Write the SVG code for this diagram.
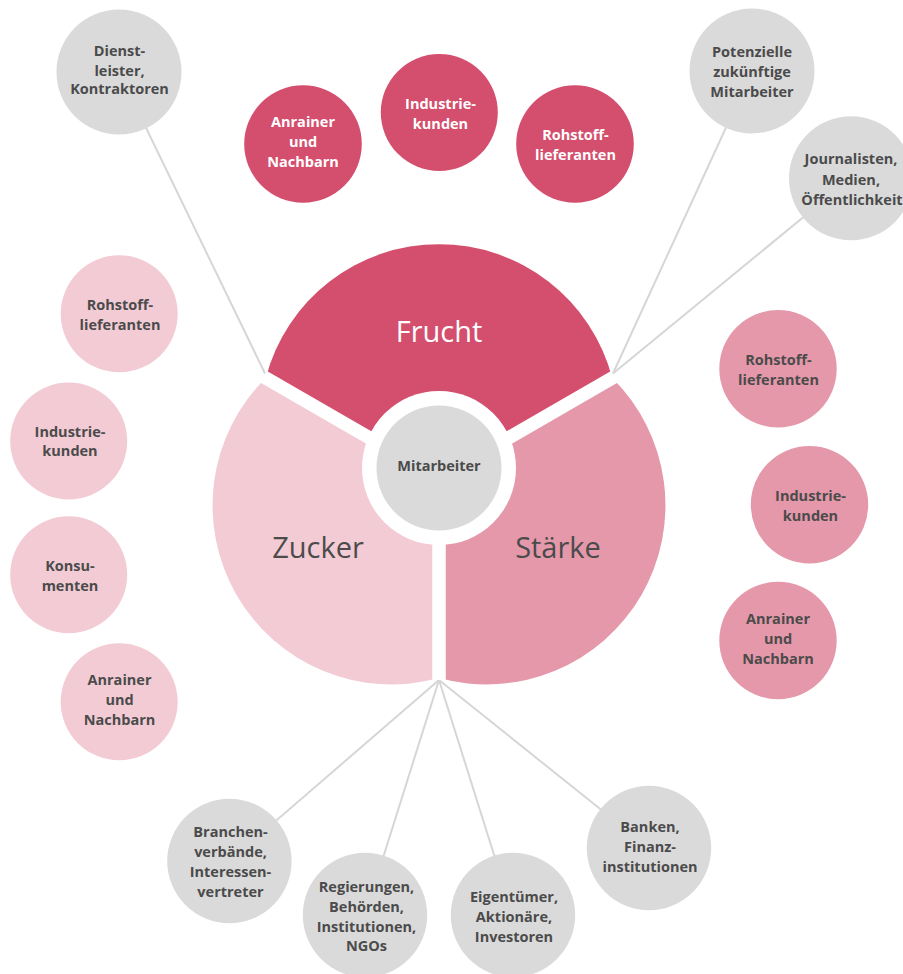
<svg xmlns="http://www.w3.org/2000/svg" width="903" height="974" viewBox="0 0 903 974">
<style>
  .lbl { font-family: "Open Sans", "Noto Sans", "Liberation Sans", sans-serif; font-size: 14.5px; font-weight: 700; text-anchor: middle; fill: #4b4b4b; }
  .lbl.w { fill: #ffffff; }
  .big { font-family: "Open Sans", "Noto Sans", "Liberation Sans", sans-serif; font-size: 29px; font-weight: 400; text-anchor: middle; fill: #4b4b4b; }
  .big.w { fill: #ffffff; }
  .gray { fill: #dadada; }
  .dark { fill: #d44e6d; }
  .mid { fill: #e598aa; }
  .light { fill: #f3cbd5; }
  .conn { stroke: #d6d6d6; stroke-width: 2; fill: none; }
  .gap { stroke: #ffffff; stroke-width: 13.5; }
</style>
<rect width="903" height="974" fill="#ffffff"/>

<g id="connectors">
  <line class="conn" x1="119" y1="72" x2="265" y2="373.5"/>
  <line class="conn" x1="752" y1="71" x2="613" y2="373.5"/>
  <line class="conn" x1="851" y1="178" x2="613" y2="373.5"/>
  <line class="conn" x1="439" y1="680" x2="229.4" y2="861"/>
  <line class="conn" x1="439" y1="680" x2="365" y2="915"/>
  <line class="conn" x1="439" y1="680" x2="513" y2="915"/>
  <line class="conn" x1="439" y1="680" x2="649" y2="848"/>
</g>

<g id="pie">
  <g id="frucht">
    <path class="dark" d="M439 478 L265.8 378 A179 179 0 0 1 612.2 378 Z"/>
    <text class="big w" x="439" y="341.5">Frucht</text>
  </g>
  <g id="staerke">
    <path class="mid" d="M439 478 L612.2 378 A179 179 0 0 1 439 678 Z"/>
    <text class="big" x="558" y="558">Stärke</text>
  </g>
  <g id="zucker">
    <path class="light" d="M439 478 L439 678 A179 179 0 0 1 265.8 378 Z"/>
    <text class="big" x="318" y="558">Zucker</text>
  </g>
  <g id="gaps">
    <line class="gap" x1="439" y1="478" x2="264" y2="377"/>
    <line class="gap" x1="439" y1="478" x2="614" y2="377"/>
    <line class="gap" x1="439" y1="478" x2="439" y2="680"/>
  </g>
  <circle cx="439" cy="468" r="77" fill="#ffffff"/>
</g>

<g id="mitarbeiter">
  <circle class="gray" cx="439" cy="468" r="62.5"/>
  <text class="lbl" x="439" y="471">Mitarbeiter</text>
</g>

<g id="top-anrainer">
  <circle class="dark" cx="303" cy="144" r="58.8"/>
  <text class="lbl w" x="303" y="127.3">Anrainer</text>
  <text class="lbl w" x="303" y="147.3">und</text>
  <text class="lbl w" x="303" y="167.3">Nachbarn</text>
</g>
<g id="top-industrie">
  <circle class="dark" cx="439.3" cy="112.5" r="58.5"/>
  <text class="lbl w" x="440.5" y="109.3">Industrie-</text>
  <text class="lbl w" x="440.5" y="129.3">kunden</text>
</g>
<g id="top-rohstoff">
  <circle class="dark" cx="575" cy="144" r="58.8"/>
  <text class="lbl w" x="575.5" y="140">Rohstoff-</text>
  <text class="lbl w" x="575.5" y="160">lieferanten</text>
</g>

<g id="left-rohstoff">
  <circle class="light" cx="119.2" cy="313.8" r="58.5"/>
  <text class="lbl" x="120" y="310">Rohstoff-</text>
  <text class="lbl" x="120" y="330">lieferanten</text>
</g>
<g id="left-industrie">
  <circle class="light" cx="68.7" cy="441" r="58.5"/>
  <text class="lbl" x="70" y="436.7">Industrie-</text>
  <text class="lbl" x="70" y="456">kunden</text>
</g>
<g id="left-konsumenten">
  <circle class="light" cx="68.7" cy="574.7" r="58.5"/>
  <text class="lbl" x="70" y="570.7">Konsu-</text>
  <text class="lbl" x="70" y="590.7">menten</text>
</g>
<g id="left-anrainer">
  <circle class="light" cx="119.2" cy="701.8" r="58.5"/>
  <text class="lbl" x="119.5" y="685">Anrainer</text>
  <text class="lbl" x="119.5" y="705">und</text>
  <text class="lbl" x="119.5" y="724.5">Nachbarn</text>
</g>

<g id="right-rohstoff">
  <circle class="mid" cx="778" cy="368.7" r="58.7"/>
  <text class="lbl" x="778.5" y="365">Rohstoff-</text>
  <text class="lbl" x="778.5" y="385">lieferanten</text>
</g>
<g id="right-industrie">
  <circle class="mid" cx="809.5" cy="504.7" r="58.7"/>
  <text class="lbl" x="810.5" y="500.7">Industrie-</text>
  <text class="lbl" x="810.5" y="520.7">kunden</text>
</g>
<g id="right-anrainer">
  <circle class="mid" cx="778" cy="640.5" r="58.7"/>
  <text class="lbl" x="778" y="624">Anrainer</text>
  <text class="lbl" x="778" y="644">und</text>
  <text class="lbl" x="778" y="663.5">Nachbarn</text>
</g>

<g id="dienstleister">
  <circle class="gray" cx="119" cy="72" r="62.5"/>
  <text class="lbl" x="119.5" y="56">Dienst-</text>
  <text class="lbl" x="119.5" y="75.5">leister,</text>
  <text class="lbl" x="119.5" y="94">Kontraktoren</text>
</g>
<g id="potenzielle">
  <circle class="gray" cx="752" cy="71" r="62.5"/>
  <text class="lbl" x="752" y="56.7">Potenzielle</text>
  <text class="lbl" x="752" y="76.5">zukünftige</text>
  <text class="lbl" x="752" y="96.5">Mitarbeiter</text>
</g>
<g id="journalisten">
  <circle class="gray" cx="851" cy="178.3" r="62"/>
  <text class="lbl" x="851" y="164.3">Journalisten,</text>
  <text class="lbl" x="851" y="184.5">Medien,</text>
  <text class="lbl" x="852" y="204.8">Öffentlichkeit</text>
</g>
<g id="branchen">
  <circle class="gray" cx="229.4" cy="861" r="62.2"/>
  <text class="lbl" x="230.5" y="837.3">Branchen-</text>
  <text class="lbl" x="230.5" y="856.7">verbände,</text>
  <text class="lbl" x="230.5" y="876.7">Interessen-</text>
  <text class="lbl" x="230.5" y="896.7">vertreter</text>
</g>
<g id="regierungen">
  <circle class="gray" cx="365" cy="915" r="62.2"/>
  <text class="lbl" x="366.5" y="891.7">Regierungen,</text>
  <text class="lbl" x="366.5" y="911.7">Behörden,</text>
  <text class="lbl" x="366.5" y="931.7">Institutionen,</text>
  <text class="lbl" x="366.5" y="951">NGOs</text>
</g>
<g id="eigentuemer">
  <circle class="gray" cx="513" cy="915" r="62.2"/>
  <text class="lbl" x="514" y="901.7">Eigentümer,</text>
  <text class="lbl" x="514" y="921.7">Aktionäre,</text>
  <text class="lbl" x="514" y="941.7">Investoren</text>
</g>
<g id="banken">
  <circle class="gray" cx="649" cy="848" r="62.2"/>
  <text class="lbl" x="650" y="831.7">Banken,</text>
  <text class="lbl" x="650" y="851.7">Finanz-</text>
  <text class="lbl" x="650" y="871.7">institutionen</text>
</g>
</svg>
